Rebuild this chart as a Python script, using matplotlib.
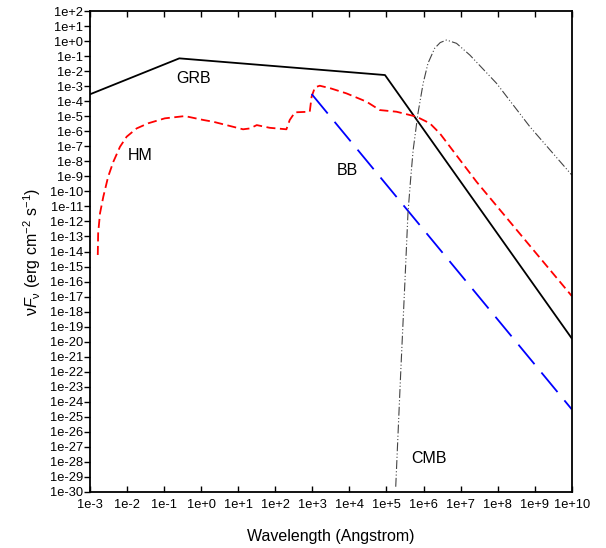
import numpy as np
import matplotlib
matplotlib.use('Agg')
import matplotlib.pyplot as plt

plt.rcParams['font.family'] = ['Liberation Sans', 'DejaVu Sans']
plt.rcParams['mathtext.fontset'] = 'custom'
plt.rcParams['mathtext.rm'] = 'Liberation Sans'
plt.rcParams['mathtext.it'] = 'Liberation Sans:italic'

# curves, as log10(wavelength) / log10(nuFnu)
grb_x = [-3.0, -0.59, 4.96, 10.0]
grb_y = [-3.54, -1.15, -2.26, -19.78]

bb_x = [2.98, 10.0]
bb_y = [-3.52, -24.5]

hm_x = [-2.79, -2.78, -2.73, -2.64, -2.51, -2.37, -2.19, -2.01, -1.74, -1.43,
        -0.98, -0.44, 0.06, 0.33, 1.13, 1.32, 1.5, 1.85, 2.3, 2.39, 2.53,
        2.93, 2.98, 3.07, 3.2, 3.5, 3.92, 4.46, 4.82, 5.27, 5.81, 6.17,
        6.44, 7.43, 10.0]
hm_y = [-14.23, -12.8, -11.46, -10.35, -9.02, -8.03, -7.03, -6.36, -5.81, -5.47,
        -5.14, -4.99, -5.25, -5.37, -5.87, -5.81, -5.59, -5.77, -5.87, -5.25, -4.74,
        -4.7, -3.7, -3.08, -2.97, -3.15, -3.48, -4.03, -4.59, -4.7, -5.03, -5.47,
        -6.14, -9.36, -16.96]

cmb_x = [5.25, 5.38, 5.5, 5.58, 5.65, 5.72, 5.85, 5.99, 6.12, 6.3, 6.45, 6.62,
         6.89, 7.25, 7.97, 8.87, 10.0]
cmb_y = [-29.65, -22.3, -15.9, -11.46, -9.24, -7.25, -4.81, -2.81, -1.48, -0.48,
         -0.1, 0.07, -0.15, -0.93, -2.81, -5.7, -8.91]

labels = ['GRB', 'HM', 'BB', 'CMB']
label_x = [-0.68, -1.98, 3.66, 5.66]
label_y = [-2.46, -7.58, -8.58, -27.8]

x_exp = list(range(-3, 11))
y_exp = list(range(-30, 3))

fig = plt.figure(figsize=(6.06, 5.48), dpi=100)
ax = fig.add_axes([0.1485, 0.1022, 0.795, 0.8777])

ax.plot(10.0 ** np.array(grb_x), 10.0 ** np.array(grb_y), color='black', lw=1.3)
ax.plot(10.0 ** np.array(hm_x), 10.0 ** np.array(hm_y), color='red', lw=1.3,
        dashes=(5, 2.5))
ax.plot(10.0 ** np.array(bb_x), 10.0 ** np.array(bb_y), color='blue', lw=1.3,
        dashes=(14, 6))
ax.plot(10.0 ** np.array(cmb_x), 10.0 ** np.array(cmb_y), color='#444444', lw=0.8,
        dashes=(8, 2, 1, 2, 1, 2))

for t, lx, ly in zip(labels, label_x, label_y):
    ax.text(10.0 ** lx, 10.0 ** ly, t, fontsize=11.5, va='center', ha='left')

ax.set_xscale('log')
ax.set_yscale('log')
ax.set_xlim(1e-3, 1e10)
ax.set_ylim(1e-30, 1e2)

ax.set_xticks([10.0 ** e for e in x_exp])
ax.set_xticklabels([f'1e{e:+d}' for e in x_exp])
ax.set_yticks([10.0 ** e for e in y_exp])
ax.set_yticklabels([f'1e{e:+d}' for e in y_exp])
ax.minorticks_off()

ax.tick_params(axis='y', direction='out', length=4, width=1, labelsize=9.3, pad=1)
ax.tick_params(axis='x', direction='in', length=4, width=1, labelsize=9.3,
               top=True, pad=5)
for s in ax.spines.values():
    s.set_linewidth(1.3)

ax.set_xlabel('Wavelength (Angstrom)', fontsize=11.5, labelpad=13)
ax.set_ylabel(r'$\mathrm{\nu}\mathit{F}_{\mathrm{\nu}}$ (erg cm$^{-2}$ s$^{-1}$)',
              fontsize=11.5, labelpad=5)

plt.savefig('out.png', dpi=100)
